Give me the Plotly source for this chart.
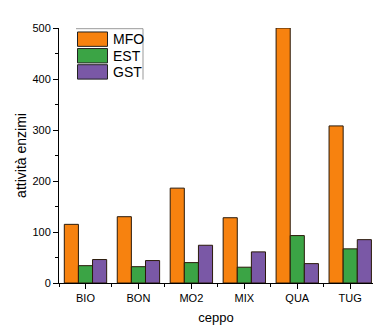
import plotly.graph_objects as go

categories = ["BIO", "BON", "MO2", "MIX", "QUA", "TUG"]
series_names = ["MFO", "EST", "GST"]
mfo = [115, 130, 186, 128, 500, 308]
est = [34, 32, 40, 31, 93, 67]
gst = [46, 44, 74, 61, 38, 85]
y_ticks = [0, 100, 200, 300, 400, 500]
colors = ["#F7820F", "#3BA445", "#7A58A6"]

W, H = 373, 325
L, T, B, R = 59, 28, 40, 0
pw, ph = W - L - R, H - T - B

def px(x):
    return (x - L) / pw

def py(y):
    return (H - B - y) / ph

xs = list(range(len(categories)))
fig = go.Figure()
for name, vals, col in zip(series_names, [mfo, est, gst], colors):
    fig.add_trace(go.Bar(
        x=xs, y=vals, name=name,
        marker=dict(color=col, line=dict(color="#2a1a0a", width=1)),
        showlegend=False,
    ))

shapes = []
annotations = []
# custom legend (Origin style)
sw_top = [32, 48.7, 65]
for i, (name, col) in enumerate(zip(series_names, colors)):
    y0 = sw_top[i]
    shapes.append(dict(type="rect", xref="paper", yref="paper",
                       x0=px(77.5), x1=px(107.5), y0=py(y0), y1=py(y0 + 14.5),
                       fillcolor=col, line=dict(color="#222", width=1)))
    annotations.append(dict(xref="paper", yref="paper", x=px(110.5), y=py(y0 + 7.5),
                            text=name, showarrow=False, xanchor="left", yanchor="middle",
                            font=dict(size=14, color="#000")))
shapes.append(dict(type="line", xref="paper", yref="paper",
                   x0=px(76), x1=px(143), y0=py(28.7), y1=py(28.7),
                   line=dict(color="#999", width=1)))
shapes.append(dict(type="line", xref="paper", yref="paper",
                   x0=px(143), x1=px(143), y0=py(28.7), y1=py(80),
                   line=dict(color="#999", width=1)))

fig.update_layout(
    width=W, height=H,
    margin=dict(l=L, r=R, t=T, b=B, pad=0),
    paper_bgcolor="white", plot_bgcolor="white",
    font=dict(family="Liberation Sans, Arial, sans-serif", color="#000"),
    barmode="group", bargap=0.2, bargroupgap=0,
    shapes=shapes, annotations=annotations,
    xaxis=dict(
        range=[-0.5, 5.43], tickmode="array", tickvals=xs, ticktext=categories,
        showgrid=False, zeroline=False, showline=True, linecolor="#000", linewidth=1,
        ticks="outside", ticklen=5, tickcolor="#000", tickwidth=1,
        tickfont=dict(size=11),
        minor=dict(tickmode="array", tickvals=[i - 0.5 for i in range(len(categories) + 1)],
                   ticks="outside", ticklen=3, tickcolor="#000"),
        title=dict(text="ceppo", font=dict(size=13), standoff=12),
    ),
    yaxis=dict(
        range=[0, 500], tickmode="array", tickvals=y_ticks,
        showgrid=False, zeroline=False, showline=True, linecolor="#000", linewidth=1,
        ticks="outside", ticklen=5, tickcolor="#000", tickwidth=1,
        tickfont=dict(size=11), ticklabelstandoff=0,
        minor=dict(dtick=50, ticks="outside", ticklen=3, tickcolor="#000"),
        title=dict(text="attività enzimi", font=dict(size=14), standoff=2),
    ),
)

fig.write_html("out.html", config={"displayModeBar": False},
               post_script="document.body.style.margin='0';document.body.style.overflow='hidden';")
